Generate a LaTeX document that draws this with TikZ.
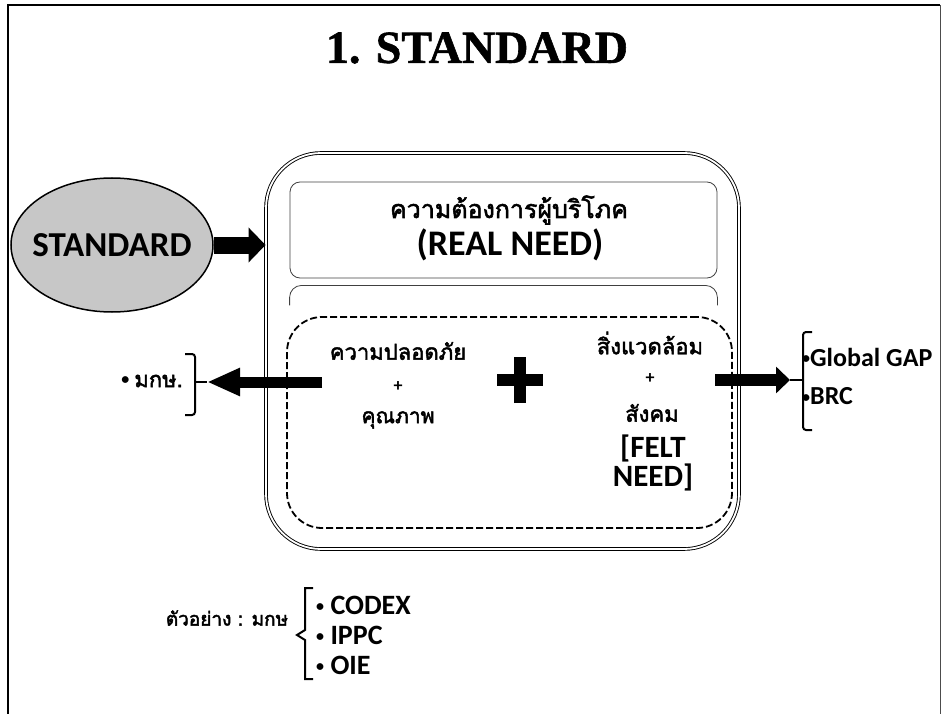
\documentclass[tikz,border=0pt]{standalone}
\usepackage{fontspec}
\setmainfont{Carlito}
\newfontfamily\thaifont[Script=Thai,AutoFakeBold=2.2]{Loma}
\newfontfamily\titlefont[FakeBold=1.2]{Liberation Serif}
\usetikzlibrary{arrows.meta,shapes.geometric}

\newcommand{\dotb}{{\fontsize{16}{16}\selectfont\raisebox{0.15em}{•}}}

\tikzset{
  thai/.style={font=\thaifont\bfseries\fontsize{#1}{#1}\selectfont, inner sep=0pt},
  latin/.style={font=\bfseries\fontsize{#1}{#1}\selectfont, inner sep=0pt},
  roundbox/.style={draw, rounded corners=#1, inner sep=0pt},
  thinline/.style={draw=black!75, line width=0.8pt},
  bracketline/.style={line width=2pt, rounded corners=3pt},
}

\begin{document}
\begin{tikzpicture}[x=1pt,y=-1pt]
  \useasboundingbox (0,0) rectangle (944,714);

  % the standard and its box
  \node[latin=35, ellipse, draw, line width=1.5pt, fill=black!22, minimum width=202pt, minimum height=134pt, inner xsep=-12pt] (std) at (112,245) {STANDARD};

  % frame and title
  \draw[line width=1.6pt] (8,714) -- (8,5) -- (940,5);
  \draw[line width=0.8pt, black!70] (940,5) -- (940,714);
  \node[font=\titlefont\bfseries\fontsize{46}{46}\selectfont, inner sep=0pt] (title) at (477,48) {1. STANDARD};

  \node[roundbox=55pt, double, line width=0.9pt, double distance=1.8pt, minimum width=473pt, minimum height=396pt] (needbox) at (502.5,351) {};
  \node[roundbox=10pt, thinline, minimum width=427pt, minimum height=96pt] (realbox) at (503.5,230) {};
  \draw[thinline, rounded corners=12pt] (realbox.south west) ++(0,27) -- ++(0,-20) -| ([yshift=-27pt]realbox.south east);
  \node[roundbox=35pt, dashed, line width=1.8pt, dash pattern=on 7pt off 3pt, minimum width=445pt, minimum height=211pt] (feltbox) at (509.5,422.5) {};

  \node[thai=25] (realth) at (509,210) {ความต้องการผู้บริโภค};
  \node[latin=36] (realen) at (510,245) {(REAL NEED)};

  \node[thai=22] (safe) at (398,351) {ความปลอดภัย};
  \node[latin=18] (plusa) at (398,387) {+};
  \node[thai=21] (quality) at (398,420) {คุณภาพ};

  \coordinate (plus) at (520,380);
  \draw[line width=12pt] ([xshift=-23pt]plus) -- ([xshift=23pt]plus);
  \draw[line width=12pt] ([yshift=-23pt]plus) -- ([yshift=23pt]plus);

  \node[thai=22] (env) at (650,343) {สิ่งแวดล้อม};
  \node[latin=18] (plusb) at (650,379) {+};
  \node[thai=22] (social) at (652,413) {สังคม};
  \node[latin=31, align=center, font=\bfseries\fontsize{31}{29}\selectfont] (felt) at (653,463) {[FELT\\NEED]};

  % arrows
  \draw[line width=17pt, -{Triangle[length=17pt,width=34pt]}] (std.east) -- (std.east -| needbox.west);

  \coordinate (lstart) at (322,382);
  \coordinate (ltip) at (207,382);
  \draw[line width=11pt, -{Triangle[length=33pt,width=26pt]}] (lstart) -- (ltip);
  \draw[bracketline] (185,354) -- (195,354) -- (195,415) -- (185,415);
  \draw[line width=2pt] (195,382) -- (ltip);
  \node[latin=22, anchor=east] (mk) at (183,381) {\dotb\ {\thaifont มกษ.}};

  \coordinate (rstart) at (715,380);
  \coordinate (rtip) at (790,380);
  \draw[line width=12pt, -{Triangle[length=14pt,width=26pt]}] (rstart) -- (rtip);
  \draw[bracketline] (812,332) -- (803,332) -- (803,430) -- (812,430);
  \draw[line width=2pt] (rtip) -- (803,380);
  \node[latin=26, anchor=west] (gap) at (802,357) {\dotb Global GAP};
  \node[latin=26, anchor=west] (brc) at (802,396) {\dotb BRC};

  % examples
  \node[thai=19] (example) at (227,618) {ตัวอย่าง : มกษ};
  \draw[line width=2pt] (313,588) -- (305,588) -- (305,630) -- (297,635) -- (305,640) -- (305,679) -- (313,679);
  \node[latin=28, anchor=west] (codex) at (316,605) {\dotb\ CODEX};
  \node[latin=28, anchor=west] (ippc) at (316,635) {\dotb\ IPPC};
  \node[latin=28, anchor=west] (oie) at (316,665) {\dotb\ OIE};
\end{tikzpicture}
\end{document}
